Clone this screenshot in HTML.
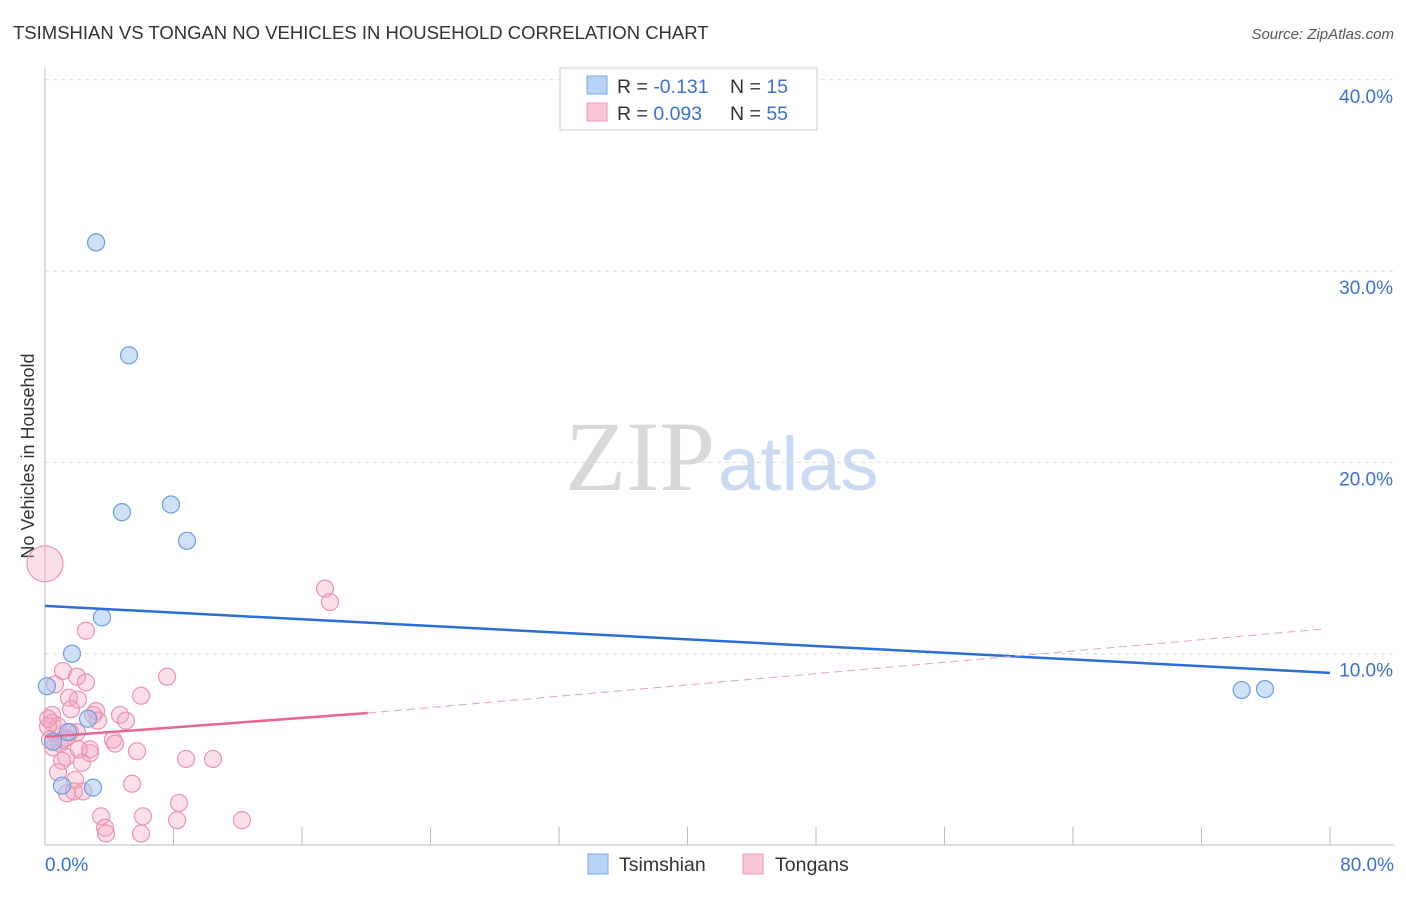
<!DOCTYPE html>
<html><head><meta charset="utf-8"><style>
body{margin:0;background:#fff;font-family:"Liberation Sans",sans-serif;}
</style></head><body>
<svg id="c" width="1406" height="892" style="font-family:'Liberation Sans',sans-serif">
<text x="13" y="39" font-size="18.5" fill="#333">TSIMSHIAN VS TONGAN NO VEHICLES IN HOUSEHOLD CORRELATION CHART</text>
<text x="1394" y="39" font-size="15" fill="#555" font-style="italic" text-anchor="end">Source: ZipAtlas.com</text>
<text x="715" y="490" font-size="100" fill="#d8d8d8" style="font-family:'Liberation Serif',serif" text-anchor="end">ZIP</text>
<text x="718" y="490" font-size="76" fill="#c9daf2">atlas</text>
<text transform="translate(34,456) rotate(-90)" font-size="18" fill="#333" text-anchor="middle">No Vehicles in Household</text>
<g id="grid"></g><g id="marks"></g><g id="lines"></g>
<g>
<rect x="560" y="68" width="257" height="62" fill="#fff" stroke="#ccc"/>
<rect x="587" y="76" width="20" height="18" fill="#b8d3f5" stroke="#7aa8e6"/>
<rect x="587" y="103" width="20" height="18" fill="#f9c7d6" stroke="#ef9ab4"/>
<text x="617" y="93" font-size="19.5" fill="#333">R = <tspan fill="#3b71d2">-0.131</tspan></text>
<text x="730" y="93" font-size="19.5" fill="#333">N = <tspan fill="#3b71d2"> 15</tspan></text>
<text x="617" y="120" font-size="19.5" fill="#333">R = <tspan fill="#3b71d2">0.093</tspan></text>
<text x="730" y="120" font-size="19.5" fill="#333">N = <tspan fill="#3b71d2">55</tspan></text>
</g>
<g>
<rect x="588" y="854" width="20" height="20" fill="#b8d3f5" stroke="#7aa8e6"/>
<text x="619" y="871" font-size="19.5" fill="#333">Tsimshian</text>
<rect x="743" y="854" width="20" height="20" fill="#f9c7d6" stroke="#ef9ab4"/>
<text x="775" y="871" font-size="19.5" fill="#333">Tongans</text>
</g>
</svg>
<script>
const blueX=[3.18,5.23,4.79,7.84,8.84,3.55,1.68,0.12,2.68,0.5,1.43,1.06,2.99,74.5,75.95];
const blueY=[31.5,25.6,17.4,17.8,15.9,11.9,10.0,8.3,6.6,5.4,5.9,3.1,3.0,8.1,8.15];
const pinkX=[17.74,17.43,2.55,1.12,1.99,2.55,0.62,7.6,5.98,1.49,2.05,1.62,3.18,4.67,5.04,3.3,0.44,0.44,0.19,0.81,1.99,1.12,0.5,4.23,4.36,2.8,2.8,5.73,1.31,1.06,2.3,8.78,10.46,0.81,5.42,1.87,1.37,1.81,2.37,8.34,3.49,6.1,8.22,12.26,3.74,3.8,5.98,1.56,0.31,0.93,2.99,0.2,1.3,2.1,0];
const pinkY=[12.7,13.4,11.2,9.1,8.8,8.5,8.4,8.8,7.8,7.7,7.6,7.1,7.0,6.8,6.5,6.5,6.8,6.4,6.2,6.2,5.9,5.5,5.1,5.5,5.3,5.0,4.8,4.9,4.6,4.4,4.3,4.5,4.5,3.8,3.2,3.4,2.7,2.8,2.8,2.2,1.5,1.5,1.3,1.3,0.9,0.6,0.6,5.9,5.5,5.3,6.8,6.6,5.6,5.0,14.7];
const pinkR=[8.5,8.5,8.5,8.5,8.5,8.5,8.5,8.5,8.5,8.5,8.5,8.5,8.5,8.5,8.5,8.5,8.5,8.5,8.5,8.5,8.5,8.5,8.5,8.5,8.5,8.5,8.5,8.5,8.5,8.5,8.5,8.5,8.5,8.5,8.5,8.5,8.5,8.5,8.5,8.5,8.5,8.5,8.5,8.5,8.5,8.5,8.5,8.5,8.5,8.5,8.5,8.5,8.5,8.5,18];
const yTicks=[10,20,30,40];
const yTickLabels=["10.0%","20.0%","30.0%","40.0%"];
const xTickVals=[0,8,16,24,32,40,48,56,64,72,80];
const blueTrend=[[0,12.5],[80,9.0]];
const pinkTrendSolid=[[0,5.65],[20.1,6.9]];
const pinkTrendDash=[[20.1,6.9],[79.7,11.3]];
const NS="http://www.w3.org/2000/svg";
const sx=v=>45+v/80*1285, sy=v=>845-v/10*191.3;
function mk(t,a,p){const e=document.createElementNS(NS,t);for(const k in a)e.setAttribute(k,a[k]);p.appendChild(e);return e;}
const grid=document.getElementById('grid'),marks=document.getElementById('marks'),lines=document.getElementById('lines');
yTicks.forEach((v,i)=>{
 const l=mk('line',{x1:45,x2:1394,y1:sy(v),y2:sy(v),stroke:'#ddd','stroke-dasharray':'4,4'},grid);
 
 
 const t=mk('text',{x:1393,y:sy(v)+23,'font-size':19,fill:'#3b71d2','text-anchor':'end'},grid);
 t.textContent=yTickLabels[i];
 
 
});
const ax=mk('line',{x1:45,x2:45,y1:68,y2:845,stroke:'#bbb'},grid);


const bx=mk('line',{x1:45,x2:1394,y1:845,y2:845,stroke:'#bbb'},grid);


xTickVals.forEach(v=>{const t=mk('line',{x1:sx(v),x2:sx(v),y1:827,y2:845,stroke:'#bbb'},grid);
 
 });
[[0,"0.0%","start",45],[80,"80.0%","end",1394]].forEach(d=>{const t=mk('text',{x:d[3],y:871,'font-size':19,fill:'#3b71d2','text-anchor':d[2]},grid);t.textContent=d[1];
 
 });
pinkX.forEach((x,i)=>{const c=mk('circle',{cx:sx(x),cy:sy(pinkY[i]),r:pinkR[i],fill:'rgba(244,165,192,0.35)',stroke:'#ec93b0','stroke-width':1.2},marks);
 
 });
blueX.forEach((x,i)=>{const c=mk('circle',{cx:sx(x),cy:sy(blueY[i]),r:8.5,fill:'rgba(160,196,240,0.5)',stroke:'#6a9ee0','stroke-width':1.2},marks);
 
 });
const b=mk('line',{x1:sx(blueTrend[0][0]),y1:sy(blueTrend[0][1]),x2:sx(blueTrend[1][0]),y2:sy(blueTrend[1][1]),stroke:'#2a6fd6','stroke-width':2.5},lines);


const p=mk('line',{x1:sx(pinkTrendSolid[0][0]),y1:sy(pinkTrendSolid[0][1]),x2:sx(pinkTrendSolid[1][0]),y2:sy(pinkTrendSolid[1][1]),stroke:'#e8668f','stroke-width':2.5},lines);


const pd=mk('line',{x1:sx(pinkTrendDash[0][0]),y1:sy(pinkTrendDash[0][1]),x2:sx(pinkTrendDash[1][0]),y2:sy(pinkTrendDash[1][1]),stroke:'#e8a0b8','stroke-width':1,'stroke-dasharray':'8,5'},lines);


</script>
</body></html>
